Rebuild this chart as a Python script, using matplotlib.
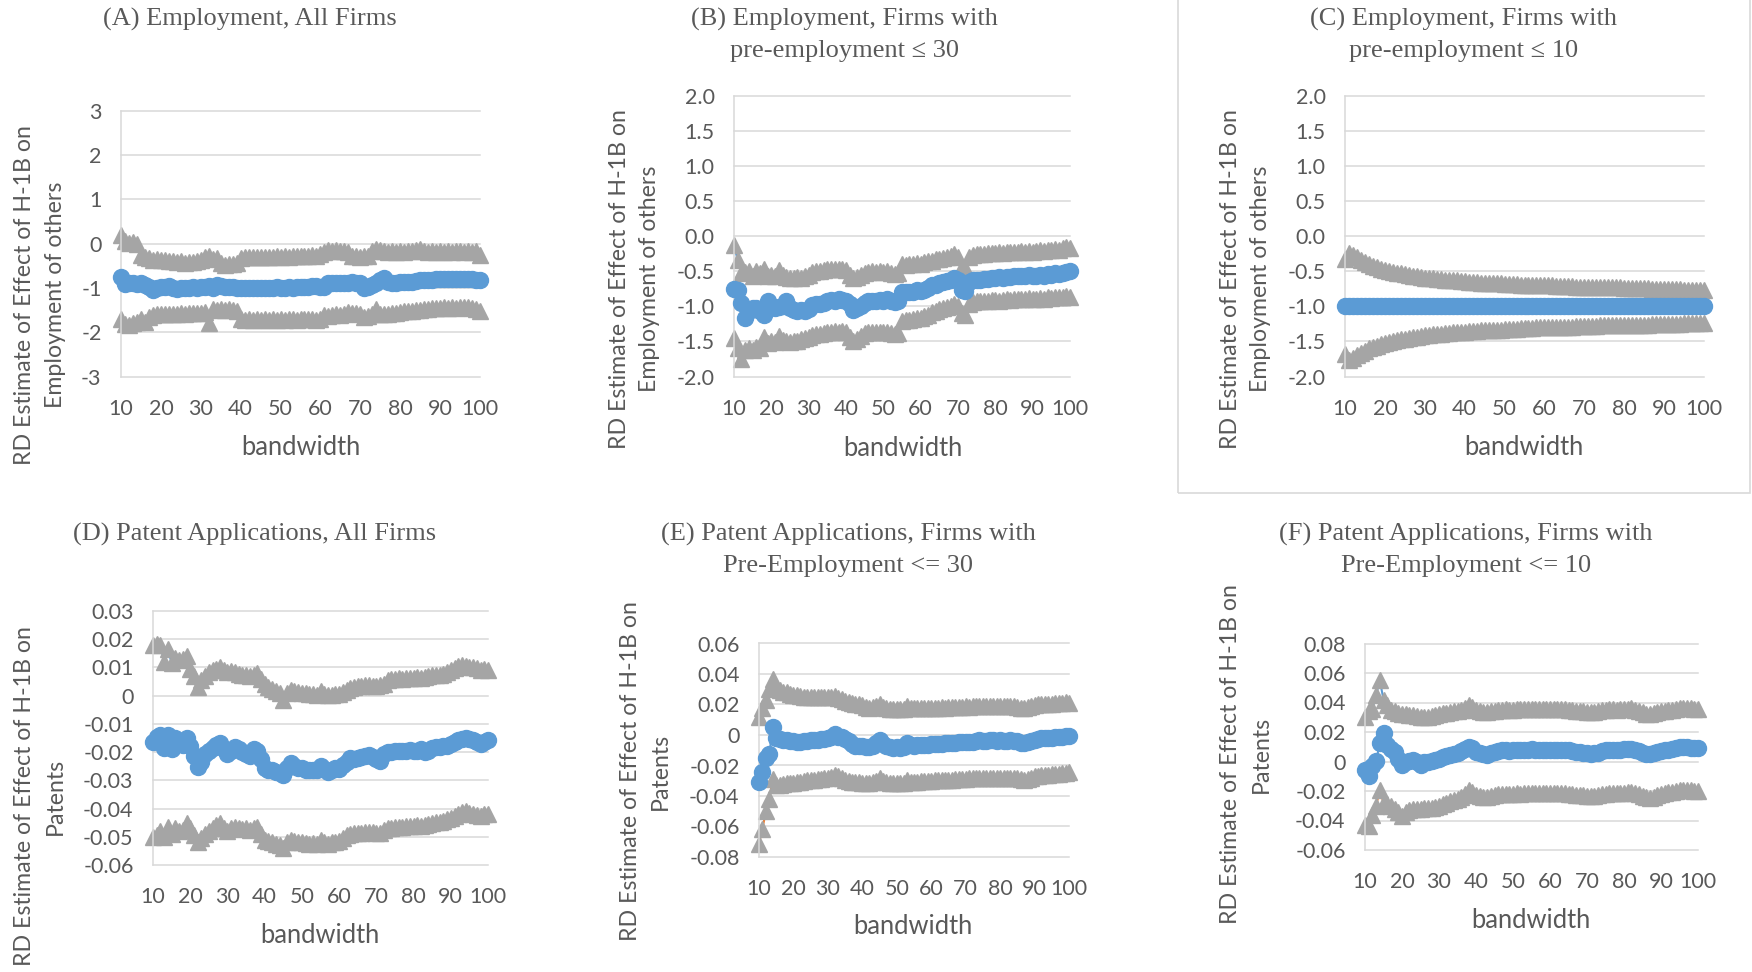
import matplotlib
matplotlib.use("Agg")
import matplotlib.pyplot as plt
from matplotlib.patches import Rectangle

# bandwidth categories (x axis)
bandwidth = list(range(10, 101))
xticks = [10, 20, 30, 40, 50, 60, 70, 80, 90, 100]
xticklabels = ["10", "20", "30", "40", "50", "60", "70", "80", "90", "100"]

# (A) Employment, all firms
A_est = [-0.75, -0.92, -0.90, -0.88, -0.92, -0.90, -0.93, -0.98, -1.05, -1.00,
         -0.98, -0.97, -0.96, -1.00, -1.02, -1.00, -1.01, -1.00, -0.99, -1.00,
         -0.98, -0.98, -0.96, -1.00, -0.93, -0.95, -0.97, -0.98, -0.99, -1.00,
         -1.00, -1.01, -1.00, -1.01, -1.00, -1.00, -1.01, -1.00, -1.00, -0.99,
         -1.00, -1.00, -0.99, -1.00, -0.99, -0.98, -0.98, -0.97, -0.96, -0.95,
         -0.97, -0.99, -0.90, -0.89, -0.89, -0.88, -0.88, -0.88, -0.87, -0.88,
         -0.90, -1.00, -0.97, -0.93, -0.90, -0.82, -0.78, -0.87, -0.88, -0.88,
         -0.87, -0.87, -0.86, -0.86, -0.85, -0.83, -0.82, -0.82, -0.82, -0.81,
         -0.81, -0.81, -0.80, -0.81, -0.80, -0.80, -0.81, -0.80, -0.80, -0.82,
         -0.83]
A_up = [0.19, 0.05, 0.02, 0.04, 0.00, -0.26, -0.30, -0.33, -0.36, -0.35,
        -0.37, -0.38, -0.40, -0.39, -0.42, -0.40, -0.43, -0.41, -0.42, -0.40,
        -0.36, -0.30, -0.28, -0.35, -0.33, -0.45, -0.48, -0.46, -0.47, -0.45,
        -0.33, -0.31, -0.31, -0.30, -0.31, -0.30, -0.31, -0.30, -0.30, -0.29,
        -0.30, -0.29, -0.30, -0.28, -0.29, -0.28, -0.27, -0.28, -0.26, -0.27,
        -0.24, -0.18, -0.15, -0.16, -0.15, -0.17, -0.16, -0.18, -0.27, -0.28,
        -0.30, -0.29, -0.27, -0.17, -0.12, -0.15, -0.16, -0.18, -0.17, -0.18,
        -0.17, -0.18, -0.17, -0.16, -0.15, -0.12, -0.17, -0.18, -0.17, -0.18,
        -0.17, -0.18, -0.17, -0.18, -0.17, -0.17, -0.18, -0.17, -0.18, -0.17,
        -0.25]
A_lo = [-1.70, -1.82, -1.83, -1.80, -1.78, -1.70, -1.78, -1.66, -1.62, -1.60,
        -1.60, -1.59, -1.58, -1.59, -1.58, -1.57, -1.58, -1.57, -1.56, -1.57,
        -1.56, -1.55, -1.80, -1.48, -1.50, -1.47, -1.49, -1.48, -1.50, -1.52,
        -1.70, -1.72, -1.71, -1.72, -1.71, -1.72, -1.71, -1.72, -1.71, -1.72,
        -1.71, -1.72, -1.71, -1.71, -1.72, -1.71, -1.71, -1.70, -1.71, -1.72,
        -1.70, -1.62, -1.63, -1.62, -1.60, -1.61, -1.60, -1.55, -1.56, -1.57,
        -1.60, -1.65, -1.63, -1.60, -1.48, -1.58, -1.60, -1.59, -1.57, -1.56,
        -1.55, -1.52, -1.53, -1.52, -1.51, -1.50, -1.48, -1.47, -1.46, -1.45,
        -1.45, -1.44, -1.45, -1.44, -1.45, -1.44, -1.43, -1.44, -1.45, -1.47,
        -1.52]
A_yticks = [-3, -2, -1, 0, 1, 2, 3]
A_ylabels = ["-3", "-2", "-1", "0", "1", "2", "3"]

# (B) Employment, firms with pre-employment <= 30
B_est = [-0.75, -0.77, -0.95, -1.17, -1.06, -1.03, -1.02, -1.06, -1.12, -0.93,
         -1.00, -1.02, -1.01, -0.99, -0.93, -1.02, -1.05, -1.06, -1.05, -1.06,
         -1.04, -0.98, -0.97, -0.96, -0.95, -0.93, -0.91, -0.92, -0.90, -0.91,
         -0.92, -0.96, -1.05, -1.03, -0.99, -0.95, -0.93, -0.92, -0.93, -0.91,
         -0.92, -0.90, -0.93, -0.94, -0.92, -0.80, -0.79, -0.80, -0.79, -0.77,
         -0.78, -0.76, -0.74, -0.70, -0.69, -0.67, -0.65, -0.64, -0.62, -0.60,
         -0.62, -0.76, -0.78, -0.65, -0.63, -0.63, -0.62, -0.61, -0.61, -0.60,
         -0.59, -0.58, -0.59, -0.58, -0.58, -0.57, -0.57, -0.56, -0.56, -0.55,
         -0.57, -0.56, -0.55, -0.56, -0.54, -0.55, -0.53, -0.54, -0.52, -0.51,
         -0.50]
B_up = [-0.13, -0.34, -0.53, -0.51, -0.50, -0.57, -0.49, -0.52, -0.46, -0.56,
        -0.55, -0.56, -0.48, -0.55, -0.58, -0.59, -0.60, -0.58, -0.59, -0.57,
        -0.55, -0.51, -0.50, -0.49, -0.48, -0.47, -0.46, -0.47, -0.46, -0.47,
        -0.48, -0.55, -0.60, -0.58, -0.55, -0.52, -0.51, -0.50, -0.51, -0.50,
        -0.51, -0.50, -0.53, -0.54, -0.53, -0.40, -0.41, -0.40, -0.39, -0.38,
        -0.39, -0.37, -0.36, -0.35, -0.33, -0.32, -0.31, -0.30, -0.28, -0.26,
        -0.30, -0.44, -0.45, -0.29, -0.27, -0.26, -0.25, -0.25, -0.24, -0.24,
        -0.24, -0.23, -0.24, -0.23, -0.22, -0.23, -0.22, -0.21, -0.22, -0.21,
        -0.22, -0.21, -0.20, -0.21, -0.19, -0.20, -0.18, -0.19, -0.17, -0.15,
        -0.17]
B_lo = [-1.45, -1.60, -1.75, -1.62, -1.60, -1.62, -1.58, -1.60, -1.44, -1.52,
        -1.50, -1.51, -1.42, -1.48, -1.50, -1.51, -1.50, -1.49, -1.47, -1.45,
        -1.43, -1.41, -1.40, -1.39, -1.38, -1.37, -1.36, -1.35, -1.36, -1.35,
        -1.36, -1.43, -1.50, -1.47, -1.42, -1.38, -1.37, -1.36, -1.37, -1.36,
        -1.37, -1.36, -1.38, -1.39, -1.38, -1.21, -1.20, -1.19, -1.18, -1.17,
        -1.16, -1.14, -1.12, -1.08, -1.06, -1.04, -1.03, -1.01, -0.99, -0.97,
        -1.00, -1.10, -1.12, -0.96, -0.94, -0.93, -0.93, -0.92, -0.92, -0.91,
        -0.91, -0.92, -0.91, -0.90, -0.91, -0.90, -0.89, -0.90, -0.89, -0.88,
        -0.90, -0.89, -0.88, -0.89, -0.87, -0.88, -0.86, -0.87, -0.86, -0.85,
        -0.86]
B_yticks = [-2.0, -1.5, -1.0, -0.5, 0.0, 0.5, 1.0, 1.5, 2.0]
B_ylabels = ["-2.0", "-1.5", "-1.0", "-0.5", "0.0", "0.5", "1.0", "1.5", "2.0"]

# (C) Employment, firms with pre-employment <= 10
C_est = [-1.0, -1.0, -1.0, -1.0, -1.0, -1.0, -1.0, -1.0, -1.0, -1.0,
         -1.0, -1.0, -1.0, -1.0, -1.0, -1.0, -1.0, -1.0, -1.0, -1.0,
         -1.0, -1.0, -1.0, -1.0, -1.0, -1.0, -1.0, -1.0, -1.0, -1.0,
         -1.0, -1.0, -1.0, -1.0, -1.0, -1.0, -1.0, -1.0, -1.0, -1.0,
         -1.0, -1.0, -1.0, -1.0, -1.0, -1.0, -1.0, -1.0, -1.0, -1.0,
         -1.0, -1.0, -1.0, -1.0, -1.0, -1.0, -1.0, -1.0, -1.0, -1.0,
         -1.0, -1.0, -1.0, -1.0, -1.0, -1.0, -1.0, -1.0, -1.0, -1.0,
         -1.0, -1.0, -1.0, -1.0, -1.0, -1.0, -1.0, -1.0, -1.0, -1.0,
         -1.0, -1.0, -1.0, -1.0, -1.0, -1.0, -1.0, -1.0, -1.0, -1.0,
         -1.0]
C_up = [-0.32, -0.24, -0.27, -0.30, -0.34, -0.37, -0.40, -0.42, -0.44, -0.46,
        -0.48, -0.49, -0.51, -0.52, -0.53, -0.54, -0.55, -0.56, -0.57, -0.58,
        -0.59, -0.59, -0.60, -0.61, -0.61, -0.62, -0.62, -0.63, -0.63, -0.64,
        -0.64, -0.65, -0.65, -0.65, -0.66, -0.66, -0.66, -0.67, -0.67, -0.67,
        -0.68, -0.68, -0.68, -0.68, -0.69, -0.69, -0.69, -0.69, -0.70, -0.70,
        -0.70, -0.70, -0.70, -0.71, -0.71, -0.71, -0.71, -0.71, -0.72, -0.72,
        -0.72, -0.72, -0.72, -0.72, -0.73, -0.73, -0.73, -0.73, -0.73, -0.73,
        -0.74, -0.74, -0.74, -0.74, -0.74, -0.74, -0.74, -0.75, -0.75, -0.75,
        -0.75, -0.75, -0.75, -0.75, -0.75, -0.76, -0.76, -0.76, -0.76, -0.76,
        -0.76]
C_lo = [-1.68, -1.76, -1.73, -1.70, -1.66, -1.63, -1.60, -1.58, -1.56, -1.54,
        -1.52, -1.51, -1.49, -1.48, -1.47, -1.46, -1.45, -1.44, -1.43, -1.42,
        -1.41, -1.41, -1.40, -1.39, -1.39, -1.38, -1.38, -1.37, -1.37, -1.36,
        -1.36, -1.35, -1.35, -1.35, -1.34, -1.34, -1.34, -1.33, -1.33, -1.33,
        -1.32, -1.32, -1.32, -1.32, -1.31, -1.31, -1.31, -1.31, -1.30, -1.30,
        -1.30, -1.30, -1.30, -1.29, -1.29, -1.29, -1.29, -1.29, -1.28, -1.28,
        -1.28, -1.28, -1.28, -1.28, -1.27, -1.27, -1.27, -1.27, -1.27, -1.27,
        -1.26, -1.26, -1.26, -1.26, -1.26, -1.26, -1.26, -1.25, -1.25, -1.25,
        -1.25, -1.25, -1.25, -1.25, -1.25, -1.24, -1.24, -1.24, -1.24, -1.24,
        -1.24]
C_yticks = B_yticks
C_ylabels = B_ylabels

# (D) Patent applications, all firms
D_est = [-0.0163, -0.0145, -0.0140, -0.0185, -0.0138, -0.0190, -0.0150, -0.0160, -0.0175, -0.0150,
         -0.0180, -0.0215, -0.0252, -0.0235, -0.0205, -0.0195, -0.0185, -0.0175, -0.0166, -0.0190,
         -0.0206, -0.0195, -0.0183, -0.0190, -0.0200, -0.0205, -0.0213, -0.0190, -0.0195, -0.0225,
         -0.0255, -0.0262, -0.0265, -0.0270, -0.0275, -0.0281, -0.0255, -0.0240, -0.0250, -0.0255,
         -0.0258, -0.0262, -0.0265, -0.0263, -0.0265, -0.0250, -0.0260, -0.0270, -0.0262, -0.0258,
         -0.0260, -0.0245, -0.0235, -0.0222, -0.0225, -0.0220, -0.0218, -0.0215, -0.0210, -0.0218,
         -0.0225, -0.0230, -0.0206, -0.0200, -0.0198, -0.0196, -0.0195, -0.0197, -0.0195, -0.0194,
         -0.0196, -0.0195, -0.0190, -0.0200, -0.0195, -0.0185, -0.0183, -0.0182, -0.0180, -0.0178,
         -0.0172, -0.0165, -0.0158, -0.0152, -0.0150, -0.0153, -0.0158, -0.0165, -0.0170, -0.0163,
         -0.0158]
D_up = [0.0180, 0.0182, 0.0178, 0.0120, 0.0165, 0.0115, 0.0135, 0.0125, 0.0130, 0.0140,
        0.0095, 0.0070, 0.0032, 0.0055, 0.0070, 0.0085, 0.0090, 0.0095, 0.0103, 0.0090,
        0.0085, 0.0088, 0.0085, 0.0078, 0.0075, 0.0072, 0.0070, 0.0075, 0.0080, 0.0060,
        0.0040, 0.0030, 0.0025, 0.0018, 0.0010, -0.0015, 0.0009, 0.0020, 0.0015, 0.0012,
        0.0010, 0.0008, 0.0005, 0.0006, 0.0004, 0.0015, 0.0005, 0.0002, 0.0004, 0.0006,
        0.0005, 0.0012, 0.0020, 0.0026, 0.0030, 0.0033, 0.0035, 0.0037, 0.0038, 0.0036,
        0.0035, 0.0038, 0.0042, 0.0055, 0.0058, 0.0060, 0.0062, 0.0060, 0.0063, 0.0062,
        0.0063, 0.0065, 0.0064, 0.0066, 0.0068, 0.0072, 0.0074, 0.0072, 0.0078, 0.0085,
        0.0090, 0.0098, 0.0105, 0.0110, 0.0105, 0.0100, 0.0102, 0.0098, 0.0092, 0.0094,
        0.0090]
D_lo = [-0.0500, -0.0495, -0.0480, -0.0500, -0.0465, -0.0490, -0.0470, -0.0480, -0.0475, -0.0450,
        -0.0470, -0.0495, -0.0520, -0.0505, -0.0490, -0.0480, -0.0470, -0.0460, -0.0450, -0.0470,
        -0.0480, -0.0470, -0.0465, -0.0468, -0.0472, -0.0470, -0.0475, -0.0470, -0.0465, -0.0490,
        -0.0510, -0.0515, -0.0520, -0.0525, -0.0530, -0.0540, -0.0520, -0.0510, -0.0515, -0.0518,
        -0.0520, -0.0522, -0.0524, -0.0522, -0.0525, -0.0510, -0.0520, -0.0525, -0.0520, -0.0518,
        -0.0515, -0.0505, -0.0495, -0.0490, -0.0488, -0.0486, -0.0485, -0.0483, -0.0482, -0.0484,
        -0.0486, -0.0488, -0.0475, -0.0470, -0.0468, -0.0466, -0.0465, -0.0466, -0.0463, -0.0462,
        -0.0462, -0.0460, -0.0461, -0.0458, -0.0455, -0.0450, -0.0448, -0.0446, -0.0443, -0.0438,
        -0.0432, -0.0425, -0.0418, -0.0412, -0.0410, -0.0415, -0.0418, -0.0422, -0.0425, -0.0420,
        -0.0418]
D_yticks = [-0.06, -0.05, -0.04, -0.03, -0.02, -0.01, 0.0, 0.01, 0.02, 0.03]
D_ylabels = ["-0.06", "-0.05", "-0.04", "-0.03", "-0.02", "-0.01", "0", "0.01", "0.02", "0.03"]

# (E) Patent applications, firms with pre-employment <= 30
E_est = [-0.0306, -0.0240, -0.0150, -0.0122, 0.0050, -0.0020, -0.0025, -0.0030, -0.0035, -0.0040,
         -0.0040, -0.0045, -0.0045, -0.0040, -0.0040, -0.0035, -0.0030, -0.0030, -0.0025, -0.0025,
         -0.0020, -0.0015, 0.0005, -0.0010, -0.0015, -0.0025, -0.0040, -0.0060, -0.0070, -0.0070,
         -0.0075, -0.0080, -0.0078, -0.0070, -0.0050, -0.0035, -0.0060, -0.0075, -0.0080, -0.0082,
         -0.0080, -0.0082, -0.0078, -0.0055, -0.0068, -0.0070, -0.0068, -0.0066, -0.0065, -0.0064,
         -0.0062, -0.0060, -0.0058, -0.0057, -0.0055, -0.0055, -0.0052, -0.0050, -0.0048, -0.0047,
         -0.0045, -0.0044, -0.0043, -0.0040, -0.0035, -0.0040, -0.0038, -0.0036, -0.0035, -0.0037,
         -0.0036, -0.0038, -0.0037, -0.0036, -0.0038, -0.0042, -0.0050, -0.0052, -0.0048, -0.0040,
         -0.0030, -0.0025, -0.0022, -0.0020, -0.0018, -0.0018, -0.0016, -0.0015, -0.0012, -0.0008,
         -0.0005]
E_up = [0.0118, 0.0180, 0.0227, 0.0300, 0.0365, 0.0310, 0.0295, 0.0285, 0.0280, 0.0270,
        0.0265, 0.0260, 0.0255, 0.0250, 0.0250, 0.0248, 0.0250, 0.0248, 0.0246, 0.0248,
        0.0250, 0.0248, 0.0255, 0.0245, 0.0235, 0.0220, 0.0215, 0.0210, 0.0205, 0.0200,
        0.0195, 0.0185, 0.0180, 0.0182, 0.0190, 0.0205, 0.0185, 0.0175, 0.0170, 0.0168,
        0.0168, 0.0170, 0.0172, 0.0190, 0.0180, 0.0175, 0.0175, 0.0178, 0.0176, 0.0178,
        0.0180, 0.0178, 0.0180, 0.0182, 0.0180, 0.0182, 0.0184, 0.0182, 0.0185, 0.0186,
        0.0188, 0.0186, 0.0188, 0.0190, 0.0192, 0.0190, 0.0188, 0.0190, 0.0192, 0.0190,
        0.0190, 0.0188, 0.0190, 0.0189, 0.0188, 0.0185, 0.0180, 0.0178, 0.0182, 0.0190,
        0.0196, 0.0200, 0.0202, 0.0204, 0.0205, 0.0206, 0.0207, 0.0208, 0.0212, 0.0215,
        0.0210]
E_lo = [-0.0713, -0.0614, -0.0500, -0.0420, -0.0287, -0.0330, -0.0325, -0.0320, -0.0318, -0.0315,
        -0.0312, -0.0310, -0.0305, -0.0300, -0.0298, -0.0295, -0.0292, -0.0290, -0.0288, -0.0285,
        -0.0280, -0.0275, -0.0262, -0.0270, -0.0285, -0.0295, -0.0300, -0.0305, -0.0308, -0.0310,
        -0.0312, -0.0315, -0.0313, -0.0310, -0.0300, -0.0285, -0.0300, -0.0310, -0.0314, -0.0316,
        -0.0315, -0.0316, -0.0312, -0.0295, -0.0305, -0.0306, -0.0305, -0.0303, -0.0302, -0.0300,
        -0.0300, -0.0298, -0.0297, -0.0296, -0.0294, -0.0293, -0.0292, -0.0290, -0.0288, -0.0287,
        -0.0286, -0.0285, -0.0284, -0.0282, -0.0280, -0.0283, -0.0282, -0.0281, -0.0280, -0.0282,
        -0.0281, -0.0283, -0.0282, -0.0281, -0.0283, -0.0285, -0.0290, -0.0292, -0.0288, -0.0280,
        -0.0272, -0.0268, -0.0265, -0.0262, -0.0260, -0.0258, -0.0255, -0.0253, -0.0250, -0.0248,
        -0.0245]
E_yticks = [-0.08, -0.06, -0.04, -0.02, 0.0, 0.02, 0.04, 0.06]
E_ylabels = ["-0.08", "-0.06", "-0.04", "-0.02", "0", "0.02", "0.04", "0.06"]

# (F) Patent applications, firms with pre-employment <= 10
F_est = [-0.0058, -0.0100, -0.0030, 0.0005, 0.0123, 0.0190, 0.0110, 0.0085, 0.0065, 0.0020,
         -0.0024, -0.0005, 0.0005, 0.0007, -0.0005, -0.0024, -0.0005, 0.0000, 0.0005, 0.0007,
         0.0020, 0.0030, 0.0038, 0.0045, 0.0050, 0.0058, 0.0070, 0.0085, 0.0100, 0.0090,
         0.0065, 0.0055, 0.0048, 0.0044, 0.0055, 0.0065, 0.0072, 0.0075, 0.0076, 0.0074,
         0.0078, 0.0080, 0.0076, 0.0078, 0.0080, 0.0082, 0.0080, 0.0078, 0.0079, 0.0077,
         0.0078, 0.0080, 0.0079, 0.0081, 0.0078, 0.0075, 0.0070, 0.0066, 0.0062, 0.0058,
         0.0055, 0.0053, 0.0055, 0.0060, 0.0068, 0.0075, 0.0078, 0.0080, 0.0076, 0.0078,
         0.0082, 0.0085, 0.0088, 0.0080, 0.0070, 0.0060, 0.0050, 0.0048, 0.0055, 0.0065,
         0.0072, 0.0078, 0.0080, 0.0085, 0.0090, 0.0095, 0.0098, 0.0096, 0.0094, 0.0092,
         0.0090]
F_up = [0.0302, 0.0340, 0.0358, 0.0450, 0.0550, 0.0420, 0.0380, 0.0350, 0.0340, 0.0330,
        0.0325, 0.0322, 0.0318, 0.0315, 0.0310, 0.0305, 0.0302, 0.0305, 0.0310, 0.0312,
        0.0320, 0.0328, 0.0332, 0.0336, 0.0340, 0.0345, 0.0352, 0.0365, 0.0380, 0.0372,
        0.0350, 0.0342, 0.0338, 0.0336, 0.0340, 0.0345, 0.0350, 0.0352, 0.0353, 0.0350,
        0.0352, 0.0355, 0.0353, 0.0355, 0.0356, 0.0358, 0.0356, 0.0354, 0.0355, 0.0353,
        0.0354, 0.0356, 0.0355, 0.0357, 0.0354, 0.0350, 0.0347, 0.0345, 0.0342, 0.0340,
        0.0338, 0.0336, 0.0338, 0.0342, 0.0348, 0.0352, 0.0355, 0.0356, 0.0352, 0.0354,
        0.0356, 0.0358, 0.0360, 0.0352, 0.0345, 0.0335, 0.0325, 0.0322, 0.0328, 0.0335,
        0.0340, 0.0345, 0.0348, 0.0352, 0.0358, 0.0362, 0.0365, 0.0363, 0.0360, 0.0358,
        0.0355]
F_lo = [-0.0433, -0.0440, -0.0365, -0.0300, -0.0195, -0.0280, -0.0290, -0.0300, -0.0320, -0.0340,
        -0.0370, -0.0345, -0.0330, -0.0325, -0.0320, -0.0325, -0.0318, -0.0315, -0.0312, -0.0310,
        -0.0305, -0.0290, -0.0280, -0.0270, -0.0262, -0.0255, -0.0240, -0.0222, -0.0195, -0.0205,
        -0.0225, -0.0235, -0.0240, -0.0242, -0.0235, -0.0228, -0.0222, -0.0220, -0.0218, -0.0220,
        -0.0218, -0.0215, -0.0217, -0.0215, -0.0214, -0.0212, -0.0214, -0.0216, -0.0215, -0.0216,
        -0.0215, -0.0214, -0.0215, -0.0213, -0.0215, -0.0218, -0.0222, -0.0225, -0.0228, -0.0230,
        -0.0232, -0.0234, -0.0232, -0.0228, -0.0222, -0.0218, -0.0215, -0.0214, -0.0216, -0.0215,
        -0.0213, -0.0210, -0.0208, -0.0215, -0.0222, -0.0232, -0.0242, -0.0245, -0.0238, -0.0228,
        -0.0220, -0.0212, -0.0208, -0.0205, -0.0200, -0.0196, -0.0192, -0.0194, -0.0196, -0.0198,
        -0.0200]
F_yticks = [-0.06, -0.04, -0.02, 0.0, 0.02, 0.04, 0.06, 0.08]
F_ylabels = ["-0.06", "-0.04", "-0.02", "0", "0.02", "0.04", "0.06", "0.08"]

titles = [
    "(A) Employment, All Firms",
    "(B) Employment, Firms with\npre-employment \u2264 30",
    "(C) Employment, Firms with\npre-employment \u2264 10",
    "(D) Patent Applications, All Firms",
    "(E) Patent Applications, Firms with\nPre-Employment <= 30",
    "(F) Patent Applications, Firms with\nPre-Employment <= 10",
]
ylab_emp = "RD Estimate of Effect of H-1B on\nEmployment of others"
ylab_pat = "RD Estimate of Effect of H-1B on\nPatents"
xlab = "bandwidth"

BLUE = "#5B9BD5"
GRAY = "#A5A5A5"
ORANGE = "#ED7D31"
GRID = "#D9D9D9"
TXT = "#595959"

W, H = 1752, 972
plt.rcParams["font.family"] = ["Lato", "DejaVu Sans"]

fig = plt.figure(figsize=(W / 100, H / 100), dpi=100)


def fig_text(px, py, s, **kw):
    fig.text(px / W, 1 - py / H, s, ha="center", va="center", color=TXT, **kw)


def panel(box, yticks, ylabels, est, up, lo):
    x0, y0, x1, y1 = box
    ax = fig.add_axes([x0 / W, 1 - y1 / H, (x1 - x0) / W, (y1 - y0) / H])
    ax.set_xlim(10, 100)
    ax.set_ylim(yticks[0], yticks[-1])
    for v in yticks:
        ax.axhline(v, color=GRID, lw=1.1, zorder=0, clip_on=False)
    for s in ["top", "right", "bottom"]:
        ax.spines[s].set_visible(False)
    ax.spines["left"].set_color(GRID)
    ax.spines["left"].set_linewidth(1.1)
    ax.set_xticks(xticks)
    ax.set_xticklabels(xticklabels)
    ax.set_yticks(yticks)
    ax.set_yticklabels(ylabels)
    ax.tick_params(length=0, labelsize=15.5, labelcolor=TXT)
    ax.tick_params(axis="x", pad=16)
    ax.tick_params(axis="y", pad=14)
    ax.plot(bandwidth, est, color=BLUE, lw=1.5, marker="o", ms=11.5,
            mfc=BLUE, mec=BLUE, clip_on=False, zorder=3)
    ax.plot(bandwidth, up, color=BLUE, lw=1.5, marker="^", ms=11,
            mfc=GRAY, mec=GRAY, clip_on=False, zorder=2)
    ax.plot(bandwidth, lo, color=ORANGE, lw=1.5, marker="^", ms=11,
            mfc=GRAY, mec=GRAY, clip_on=False, zorder=2)
    return ax


# frame around panel C
fig.patches.append(Rectangle((1178 / W, 1 - 493 / H), (1750 - 1178) / W, 493 / H + 0.02,
                             transform=fig.transFigure, fill=False,
                             edgecolor=GRID, lw=1.2))

panel((121, 110.6, 480, 376.5), A_yticks, A_ylabels, A_est, A_up, A_lo)
panel((734, 96, 1070, 376.5), B_yticks, B_ylabels, B_est, B_up, B_lo)
panel((1345, 96, 1704, 376.5), C_yticks, C_ylabels, C_est, C_up, C_lo)
panel((153, 611, 488, 865), D_yticks, D_ylabels, D_est, D_up, D_lo)
panel((759, 643.5, 1069, 857), E_yticks, E_ylabels, E_est, E_up, E_lo)
panel((1365, 643.5, 1698, 850), F_yticks, F_ylabels, F_est, F_up, F_lo)

serif = ["Liberation Serif", "DejaVu Serif"]
tpos = [(250, 19), (844, 35), (1464, 35), (255, 534), (848, 550), (1466, 550)]
for (px, py), t in zip(tpos, titles):
    fig_text(px, py, t, fontsize=19, family=serif, linespacing=1.5)

ypos = [(40, 295), (634.5, 279), (1245.5, 279), (40, 796), (645.5, 771), (1246, 754)]
ylabs = [ylab_emp, ylab_emp, ylab_emp, ylab_pat, ylab_pat, ylab_pat]
for (px, py), t in zip(ypos, ylabs):
    fig_text(px, py, t, fontsize=16.7, rotation=90, linespacing=1.55)

xpos = [(300.5, 447), (903, 448), (1524, 447), (320, 935), (913, 926), (1531, 920)]
for px, py in xpos:
    fig_text(px, py, xlab, fontsize=18.4)

fig.savefig("out.png", dpi=100)
